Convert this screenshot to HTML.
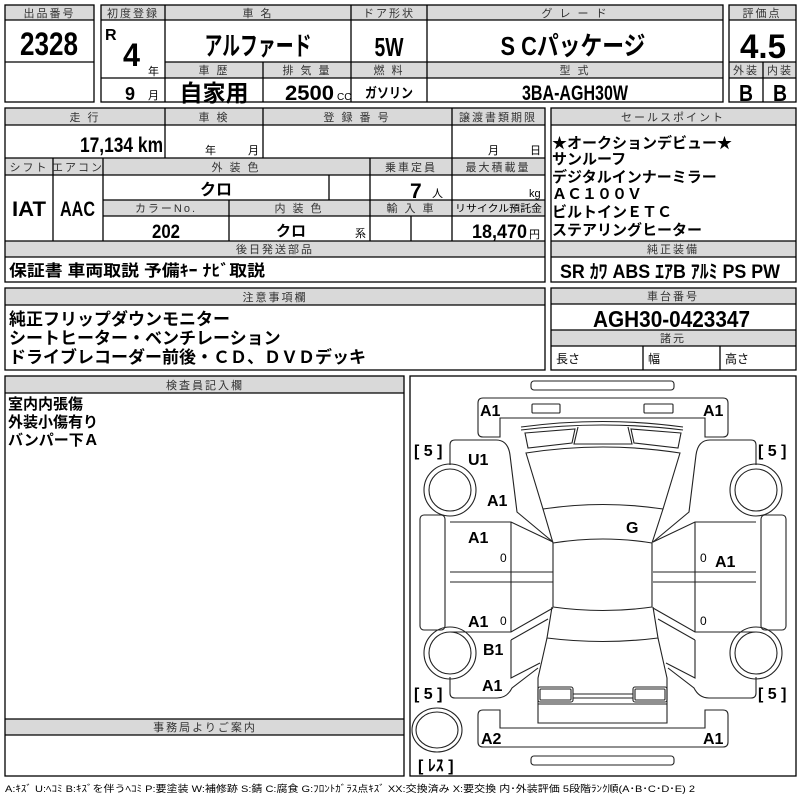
<!DOCTYPE html>
<html><head><meta charset="utf-8"><style>
body{margin:0;background:#fff}
svg{display:block}
text{font-family:"Liberation Sans","Noto Sans CJK JP",sans-serif;fill:#000}
.h{font-size:11px;text-anchor:middle;fill:#333;letter-spacing:2px}
.b{font-weight:bold}
.c{text-anchor:middle}
.n{font-family:"Liberation Sans Narrow","Liberation Sans","Noto Sans CJK JP",sans-serif;font-weight:bold}
.g{fill:#d9d9d9}
.d text{font-weight:bold;font-size:16px}
</style></head><body>
<svg width="800" height="800" viewBox="0 0 800 800" xmlns="http://www.w3.org/2000/svg">
<g fill="none" stroke="#000" stroke-width="1.3">
<rect class="g" x="5" y="5" width="89" height="15" stroke="none"/>
<rect x="5" y="5" width="89" height="97"/>
<line x1="5" y1="20" x2="94" y2="20"/><line x1="5" y1="62" x2="94" y2="62"/>
<rect class="g" x="101" y="5" width="622" height="15" stroke="none"/>
<rect class="g" x="165" y="62" width="558" height="16" stroke="none"/>
<rect x="101" y="5" width="622" height="97"/>
<line x1="101" y1="20" x2="723" y2="20"/>
<line x1="165" y1="62" x2="723" y2="62"/><line x1="101" y1="78" x2="723" y2="78"/>
<line x1="165" y1="5" x2="165" y2="102"/><line x1="351" y1="5" x2="351" y2="102"/>
<line x1="427" y1="5" x2="427" y2="102"/><line x1="263" y1="62" x2="263" y2="102"/>
<rect class="g" x="729" y="5" width="67" height="15" stroke="none"/>
<rect class="g" x="729" y="62" width="67" height="16" stroke="none"/>
<rect x="729" y="5" width="67" height="97"/>
<line x1="729" y1="20" x2="796" y2="20"/><line x1="729" y1="62" x2="796" y2="62"/>
<line x1="729" y1="78" x2="796" y2="78"/><line x1="763" y1="62" x2="763" y2="102"/>
<rect class="g" x="5" y="108" width="540" height="17" stroke="none"/>
<rect class="g" x="5" y="158" width="540" height="17" stroke="none"/>
<rect class="g" x="103" y="200" width="442" height="16" stroke="none"/>
<rect class="g" x="5" y="241" width="540" height="16" stroke="none"/>
<rect x="5" y="108" width="540" height="174"/>
<line x1="5" y1="125" x2="545" y2="125"/><line x1="5" y1="158" x2="545" y2="158"/>
<line x1="5" y1="175" x2="545" y2="175"/><line x1="103" y1="200" x2="545" y2="200"/>
<line x1="103" y1="216" x2="545" y2="216"/><line x1="5" y1="241" x2="545" y2="241"/>
<line x1="5" y1="257" x2="545" y2="257"/>
<line x1="165" y1="108" x2="165" y2="158"/><line x1="263" y1="108" x2="263" y2="158"/>
<line x1="452" y1="108" x2="452" y2="241"/>
<line x1="53" y1="158" x2="53" y2="241"/><line x1="103" y1="158" x2="103" y2="241"/>
<line x1="370" y1="158" x2="370" y2="241"/><line x1="329" y1="175" x2="329" y2="200"/>
<line x1="229" y1="200" x2="229" y2="241"/><line x1="411" y1="216" x2="411" y2="241"/>
<rect class="g" x="551" y="108" width="245" height="17" stroke="none"/>
<rect class="g" x="551" y="241" width="245" height="16" stroke="none"/>
<rect x="551" y="108" width="245" height="174"/>
<line x1="551" y1="125" x2="796" y2="125"/><line x1="551" y1="241" x2="796" y2="241"/>
<line x1="551" y1="257" x2="796" y2="257"/>
<rect class="g" x="5" y="288" width="540" height="17" stroke="none"/>
<rect x="5" y="288" width="540" height="82"/><line x1="5" y1="305" x2="545" y2="305"/>
<rect class="g" x="551" y="288" width="245" height="16" stroke="none"/>
<rect class="g" x="551" y="330" width="245" height="16" stroke="none"/>
<rect x="551" y="288" width="245" height="82"/>
<line x1="551" y1="304" x2="796" y2="304"/><line x1="551" y1="330" x2="796" y2="330"/>
<line x1="551" y1="346" x2="796" y2="346"/>
<line x1="643" y1="346" x2="643" y2="370"/><line x1="720" y1="346" x2="720" y2="370"/>
<rect class="g" x="5" y="376" width="399" height="17" stroke="none"/>
<rect class="g" x="5" y="719" width="399" height="16" stroke="none"/>
<rect x="5" y="376" width="399" height="400"/>
<line x1="5" y1="393" x2="404" y2="393"/><line x1="5" y1="719" x2="404" y2="719"/>
<line x1="5" y1="735" x2="404" y2="735"/>
<rect x="410" y="376" width="386" height="400"/>
</g>

<text class="h" x="49.5" y="17">出品番号</text>
<text class="n c" x="49" y="55" font-size="32" textLength="58" lengthAdjust="spacingAndGlyphs">2328</text>
<text class="h" x="133" y="17" letter-spacing="0">初度登録</text>
<text class="h" x="258" y="17">車 名</text>
<text class="h" x="389" y="17" letter-spacing="0">ドア形状</text>
<text class="h" x="575" y="17">グ レ ー ド</text>
<text class="n" x="105" y="40" font-size="16">R</text>
<text class="n" x="123" y="66" font-size="32" textLength="17" lengthAdjust="spacingAndGlyphs">4</text>
<text x="148" y="75" font-size="11">年</text>
<text class="n" x="125" y="100" font-size="18">9</text>
<text x="148" y="99" font-size="11">月</text>
<text class="b c" x="258" y="55" font-size="26" textLength="107" lengthAdjust="spacingAndGlyphs">アルファード</text>
<text class="n c" x="389" y="56" font-size="26" textLength="29" lengthAdjust="spacingAndGlyphs">5W</text>
<text class="b c" x="573" y="55" font-size="26" textLength="145" lengthAdjust="spacingAndGlyphs">S Cパッケージ</text>
<text class="h" x="214" y="74">車 歴</text>
<text class="h" x="307" y="74">排 気 量</text>
<text class="h" x="389" y="74">燃 料</text>
<text class="h" x="575" y="74">型 式</text>
<text class="b c" x="214" y="101" font-size="23">自家用</text>
<text class="n" x="285" y="100" font-size="21" textLength="49" lengthAdjust="spacingAndGlyphs">2500</text>
<text x="337" y="100" font-size="10">CC</text>
<text class="b c" x="389" y="98" font-size="14" textLength="48" lengthAdjust="spacingAndGlyphs">ガソリン</text>
<text class="n" x="522" y="100" font-size="21" textLength="106" lengthAdjust="spacingAndGlyphs">3BA-AGH30W</text>
<text class="h" x="762" y="17" letter-spacing="0">評価点</text>
<text class="n" x="740" y="58" font-size="34" textLength="46" lengthAdjust="spacingAndGlyphs">4.5</text>
<text class="h" x="746" y="74" letter-spacing="0">外装</text>
<text class="h" x="780" y="74" letter-spacing="0">内装</text>
<text class="n c" x="746" y="101" font-size="23" textLength="14" lengthAdjust="spacingAndGlyphs">B</text>
<text class="n c" x="780" y="101" font-size="23" textLength="14" lengthAdjust="spacingAndGlyphs">B</text>

<text class="h" x="85" y="121">走 行</text>
<text class="h" x="214" y="121">車 検</text>
<text class="h" x="357" y="121">登 録 番 号</text>
<text class="h" x="498" y="121" letter-spacing="0">譲渡書類期限</text>
<text class="n" x="80" y="152" font-size="21" textLength="83" lengthAdjust="spacingAndGlyphs">17,134 km</text>
<text x="205" y="154" font-size="11">年</text><text x="248" y="154" font-size="11">月</text>
<text x="488" y="154" font-size="11">月</text><text x="530" y="154" font-size="11">日</text>
<text class="h" x="29" y="171" letter-spacing="0">シフト</text>
<text class="h" x="78" y="171" letter-spacing="0" font-size="10">エアコン</text>
<text class="h" x="236" y="171">外 装 色</text>
<text class="h" x="411" y="171" letter-spacing="0">乗車定員</text>
<text class="h" x="498" y="171" letter-spacing="0">最大積載量</text>
<text class="n" x="12" y="216" font-size="21" textLength="34" lengthAdjust="spacingAndGlyphs">IAT</text>
<text class="n" x="60" y="216" font-size="21" textLength="35" lengthAdjust="spacingAndGlyphs">AAC</text>
<text class="b c" x="216" y="195" font-size="16">クロ</text>
<text class="n" x="410" y="198" font-size="21">7</text>
<text x="432" y="197" font-size="11">人</text>
<text x="529" y="197" font-size="11">kg</text>
<text class="h" x="166" y="212">カラーNo.</text>
<text class="h" x="299" y="212">内 装 色</text>
<text class="h" x="411" y="212">輸 入 車</text>
<text x="455" y="212" font-size="10" fill="#333" textLength="87" lengthAdjust="spacingAndGlyphs">リサイクル預託金</text>
<text class="n" x="152" y="238" font-size="19" textLength="28" lengthAdjust="spacingAndGlyphs">202</text>
<text class="b c" x="291" y="236" font-size="15">クロ</text>
<text x="355" y="237" font-size="11">系</text>
<text class="n" x="472" y="238" font-size="19" textLength="55" lengthAdjust="spacingAndGlyphs">18,470</text>
<text x="529" y="238" font-size="11">円</text>
<text class="h" x="275" y="253" letter-spacing="4">後日発送部品</text>
<text class="b" x="9" y="276" font-size="16" textLength="256" lengthAdjust="spacingAndGlyphs">保証書 車両取説 予備ｷｰ ﾅﾋﾞ取説</text>

<text class="h" x="673" y="121" letter-spacing="6">セールスポイント</text>
<g class="b" font-size="15">
<text x="552" y="148">★オークションデビュー★</text>
<text x="552" y="164">サンルーフ</text>
<text x="552" y="182">デジタルインナーミラー</text>
<text x="552" y="199">ＡＣ１００Ｖ</text>
<text x="552" y="217">ビルトインＥＴＣ</text>
<text x="552" y="235">ステアリングヒーター</text>
</g>
<text class="h" x="673" y="253" letter-spacing="5">純正装備</text>
<text class="n" x="560" y="278" font-size="19" textLength="220" lengthAdjust="spacingAndGlyphs">SR ｶﾜ ABS ｴｱB ｱﾙﾐ PS PW</text>

<text class="h" x="275" y="301" letter-spacing="5">注意事項欄</text>
<g class="b" font-size="17">
<text x="9" y="325">純正フリップダウンモニター</text>
<text x="9" y="344">シートヒーター・ベンチレーション</text>
<text x="9" y="363">ドライブレコーダー前後・ＣＤ、ＤＶＤデッキ</text>
</g>
<text class="h" x="673" y="300" letter-spacing="5">車台番号</text>
<text class="n" x="593" y="327" font-size="23" textLength="157" lengthAdjust="spacingAndGlyphs">AGH30-0423347</text>
<text class="h" x="673" y="342" letter-spacing="5">諸元</text>
<text x="556" y="363" font-size="12">長さ</text>
<text x="648" y="363" font-size="12">幅</text>
<text x="725" y="363" font-size="12">高さ</text>

<text class="h" x="205" y="389" letter-spacing="6">検査員記入欄</text>
<g class="b" font-size="15">
<text x="8" y="409">室内内張傷</text>
<text x="8" y="427">外装小傷有り</text>
<text x="8" y="445">バンパー下Ａ</text>
</g>
<text class="h" x="205" y="731" letter-spacing="7">事務局よりご案内</text>
<text x="5" y="792" font-size="9.5" fill="#333" textLength="690" lengthAdjust="spacingAndGlyphs">A:ｷｽﾞ U:ﾍｺﾐ B:ｷｽﾞを伴うﾍｺﾐ P:要塗装 W:補修跡 S:錆 C:腐食 G:ﾌﾛﾝﾄｶﾞﾗｽ点ｷｽﾞ XX:交換済み X:要交換 内･外装評価 5段階ﾗﾝｸ順(A･B･C･D･E) 2</text>

<g fill="none" stroke="#222" stroke-width="1.1">
<rect x="531" y="381" width="143" height="9" rx="3"/>
<rect x="531" y="756" width="143" height="9" rx="3"/>
<path d="M500,437 H483 Q478,437 478,432 V403 Q478,398 483,398 H723 Q728,398 728,403 V432 Q728,437 723,437 H705 V418 H500 Z"/>
<rect x="532" y="404" width="28" height="9" rx="1"/><rect x="644" y="404" width="29" height="9" rx="1"/>
<path d="M500,710 H483 Q478,710 478,715 V742 Q478,747 483,747 H723 Q728,747 728,742 V715 Q728,710 723,710 H705 V728 H500 Z"/>
<path d="M521,427 Q603,416 683,427 M521,430 Q603,420 683,430"/>
<path d="M525,433 L575,429 L572,443 L528,448 Z"/><path d="M681,433 L631,429 L634,443 L678,448 Z"/>
<path d="M578,427 L574,444 H632 L628,427"/>
<path d="M526,453 Q603,441 680,453 L663,509 Q603,500 543,509 Z"/>
<path d="M543,509 L553,543 Q603,535 652,543 L663,509"/>
<path d="M553,543 V607 Q603,614 652,607 V543"/>
<path d="M552,607 L547,638 Q603,645 658,638 L653,607"/>
<path d="M547,638 L538,678 V723 H667 V678 L658,638"/>
<line x1="538" y1="704" x2="667" y2="704"/>
<rect x="538" y="687" width="35" height="15" rx="2"/><rect x="540" y="689" width="31" height="11" rx="1"/>
<rect x="633" y="687" width="34" height="15" rx="2"/><rect x="635" y="689" width="30" height="11" rx="1"/>
<line x1="573" y1="694" x2="633" y2="694"/><line x1="573" y1="698" x2="633" y2="698"/>
<g id="side">
<path d="M450,465 V445 Q450,440 455,440 H496 Q508,440 510,455 L517,512 L553,542"/>
<circle cx="450" cy="490" r="26"/><circle cx="450" cy="490" r="21"/>
<path d="M450,522 H511 L553,542 M450,572 H553 M450,582 H553 M450,632 H511 L553,608 M511,522 V632"/>
<rect x="420" y="515" width="25" height="115" rx="4"/>
<circle cx="450" cy="653" r="26"/><circle cx="450" cy="653" r="21"/>
<path d="M511,640 L548,619 M511,640 V678 L540,663"/>
<path d="M450,677 V693 Q450,698 455,698 H497 Q507,698 512,688 L538,668"/>
</g>
<use href="#side" transform="translate(1206,0) scale(-1,1)"/>
<ellipse cx="437" cy="730" rx="25" ry="22"/><ellipse cx="437" cy="730" rx="21" ry="18"/>
</g>
<g class="d">
<text x="480" y="416">A1</text><text x="703" y="416">A1</text>
<text x="468" y="465">U1</text>
<text x="487" y="506">A1</text>
<text x="468" y="543">A1</text>
<text x="468" y="627">A1</text>
<text x="483" y="655">B1</text>
<text x="482" y="691">A1</text>
<text x="481" y="744">A2</text><text x="703" y="744">A1</text>
<text x="626" y="533">G</text>
<text x="715" y="567">A1</text>
<text x="414" y="456" font-weight="normal">[ <tspan font-weight="bold">5</tspan> ]</text>
<text x="758" y="456" font-weight="normal">[ <tspan font-weight="bold">5</tspan> ]</text>
<text x="414" y="699" font-weight="normal">[ <tspan font-weight="bold">5</tspan> ]</text>
<text x="758" y="699" font-weight="normal">[ <tspan font-weight="bold">5</tspan> ]</text>
<text x="418" y="771" font-weight="normal" font-size="14">[ ﾚｽ ]</text>
</g>
<g font-size="12" fill="#222">
<text x="500" y="562">0</text><text x="500" y="625">0</text>
<text x="700" y="562">0</text><text x="700" y="625">0</text>
</g>
</svg>
</body></html>
